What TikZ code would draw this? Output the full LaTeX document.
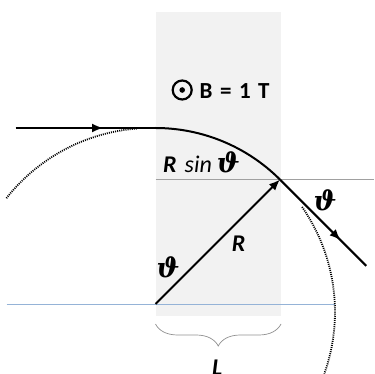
\documentclass[tikz,border=0pt]{standalone}
\usepackage{fontspec}
\setmainfont{Carlito}
\newfontfamily\thfont{DejaVu Serif}
\usetikzlibrary{arrows.meta,decorations.markings,decorations.pathreplacing,calc}
\definecolor{rectgray}{HTML}{F2F2F2}
\definecolor{linegray}{HTML}{A0A0A0}
\definecolor{blueline}{HTML}{95B3D7}
\definecolor{bracegray}{HTML}{909090}
\newcommand{\thsym}{{\fontsize{27}{30}\selectfont\thfont\bfseries\itshape ϑ}}
\begin{document}
\begin{tikzpicture}[x=1pt,y=1pt,
 traj/.style={line width=2pt, black},
 dotc/.style={line width=1.8pt, dash pattern=on 1pt off 1.1pt},
 lbl/.style={font=\fontsize{24}{28}\selectfont, inner sep=0pt},
 midarrow/.style={postaction={decorate}, decoration={markings, mark=at position #1 with {\arrow{Latex[length=11pt,width=9pt]}}}},
]
\useasboundingbox (0,0) rectangle (374,374);
\fill[rectgray] (155.5,58.3) rectangle (281,362);
% key points
\coordinate (C) at (155.5,70);
\coordinate (T) at (155.5,246);
\coordinate (E) at ($(C)+(45:176)$);
\coordinate (inS) at (15.7,246);
\coordinate (outE) at ($(E)+(-45:122)$);
\coordinate (blueL) at (6.7,70);
\coordinate (blueR) at (335,70);
\coordinate (grayL) at (155.5,194.45);
\coordinate (grayR) at (374,194.45);
\coordinate (DC) at (151,62);
\coordinate (brL) at (155.5,50);
\coordinate (brR) at (281,50);
% reference lines
\draw[linegray, line width=0.9pt] (grayL) -- (grayR);
\draw[blueline, line width=0.8pt] (blueL) -- (blueR);
% dotted circle
\draw[dotc] ($(DC)+(141.8:184)$) arc[start angle=141.8, end angle=94.1, radius=184];
\draw[dotc] ($(DC)+(34.8:184)$) arc[start angle=34.8, end angle=-19.6, radius=184];
% trajectory
\draw[traj, midarrow=0.625] (inS) -- (T);
\draw[traj] (T) arc[start angle=90, end angle=45, radius=176];
\draw[traj, midarrow=0.705] (E) -- (outE);
% radius
\draw[traj, -{Latex[length=11pt,width=9pt]}] (C) -- (E);
% brace
\draw[bracegray, line width=0.7pt, decorate, decoration={brace, amplitude=22pt}] (brR) -- (brL);
% field symbol
\node[circle, draw, line width=2.2pt, minimum size=19pt, inner sep=0pt] (bsym) at (182.2,284) {};
\fill (bsym.center) circle (2.8pt);
\node[lbl, font=\fontsize{23}{27}\selectfont\bfseries, anchor=base west] (btxt) at (199.5,275.5) {B\hspace{7.5pt}=\hspace{7.5pt}1\hspace{7.5pt}T};
% labels
\node[lbl, anchor=base west] (rsin) at (163,201.7) {\bfseries\itshape R\hspace{8pt}\mdseries sin\hspace{5pt}\thsym};
\node[lbl] (thR) at (325,174) {\thsym};
\node[lbl, anchor=base west] (rl) at (231.7,122.3) {\bfseries\itshape R};
\node[lbl] (thL) at (168,106.5) {\thsym};
\node[lbl, anchor=base west] (L) at (212,-1.5) {\bfseries\itshape L};
\end{tikzpicture}
\end{document}
